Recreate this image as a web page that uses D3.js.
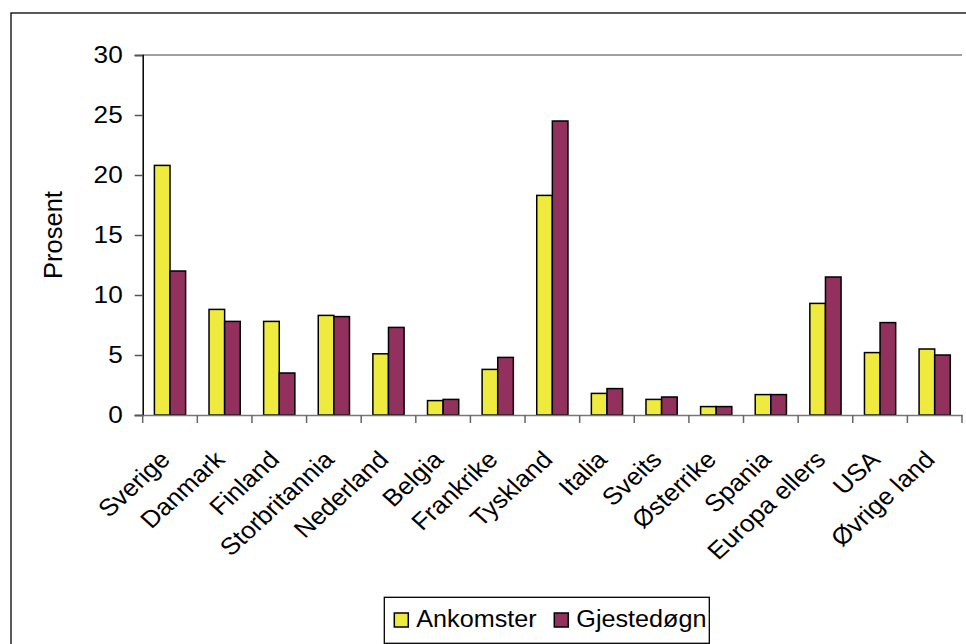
<!DOCTYPE html>
<html><head><meta charset="utf-8">
<script src="https://cdn.jsdelivr.net/npm/d3@7"></script>
<style>body{margin:0;background:#fff}svg{display:block;font-family:"Liberation Sans",Arial,sans-serif}</style>
</head><body><svg id="c" width="966" height="644"></svg>
<script>
const categories = ["Sverige","Danmark","Finland","Storbritannia","Nederland","Belgia","Frankrike","Tyskland","Italia","Sveits","Østerrike","Spania","Europa ellers","USA","Øvrige land"];
const ankomster = [20.8, 8.8, 7.8, 8.3, 5.1, 1.2, 3.8, 18.3, 1.8, 1.3, 0.7, 1.7, 9.3, 5.2, 5.5];
const gjestedogn = [12.0, 7.8, 3.5, 8.2, 7.3, 1.3, 4.8, 24.5, 2.2, 1.5, 0.7, 1.7, 11.5, 7.7, 5.0];
const seriesNames = ["Ankomster","Gjestedøgn"];
const seriesColors = ["#eeea3e","#93315e"];
const yTicks = [0,5,10,15,20,25,30];

const SX = 1.09; // horizontal text stretch seen in the reference
const svg = d3.select("#c");
const pLeft = 142.7, pRight = 962, pTop = 55, pBottom = 415;

// outer frame
svg.append("rect").attr("x",11).attr("y",13).attr("width",1000).attr("height",700)
  .attr("fill","#fff").attr("stroke","#000").attr("stroke-width",1.3);

const x = d3.scaleBand().domain(categories).range([pLeft,pRight]).paddingInner(0).paddingOuter(0);
const y = d3.scaleLinear().domain([0,30]).range([pBottom,pTop]);
const bw = x.bandwidth()/3.5;
const xs = d3.scaleBand().domain(seriesNames).range([bw*0.75, bw*2.75]).padding(0);

// top border of plot area
svg.append("line").attr("x1",pLeft).attr("x2",pRight).attr("y1",pTop).attr("y2",pTop)
  .attr("stroke","#808080").attr("stroke-width",1.5);

const data = categories.map((c,i)=>({c, vals:[ankomster[i], gjestedogn[i]]}));
const g = svg.append("g");
data.forEach(d=>{
  d.vals.forEach((v,j)=>{
    g.append("rect")
      .attr("x", x(d.c)+xs(seriesNames[j]))
      .attr("y", y(v))
      .attr("width", xs.bandwidth())
      .attr("height", y(0)-y(v))
      .attr("fill", seriesColors[j]).attr("stroke","#000").attr("stroke-width",1.5);
  });
});

// y axis
const yAxis = d3.axisLeft(y).tickValues(yTicks).tickSize(8).tickPadding(0).tickFormat(d3.format("d"));
const ya = svg.append("g").attr("transform",`translate(${pLeft},0)`).call(yAxis);
ya.select(".domain").attr("stroke","#000").attr("stroke-width",1.5);
ya.selectAll(".tick line").attr("stroke","#555").attr("stroke-width",1.5);
ya.selectAll(".tick text").attr("x",null)
  .attr("transform",`translate(-20,0) scale(${SX},1)`)
  .attr("font-size",24).attr("fill","#000").attr("font-family","Liberation Sans, Arial, sans-serif");

// x axis
const xAxis = d3.axisBottom(x).tickSize(0).tickFormat("");
const xa = svg.append("g").attr("transform",`translate(0,${pBottom})`).call(xAxis);
xa.select(".domain").attr("stroke","#777").attr("stroke-width",1.5);
const bounds = categories.map(c=>x(c)).concat([pRight]);
xa.selectAll(".bt").data(bounds).enter().append("line").attr("class","bt")
  .attr("x1",d=>d).attr("x2",d=>d).attr("y1",0).attr("y2",8).attr("stroke","#666").attr("stroke-width",1.5);

svg.append("g").selectAll("text").data(categories).enter().append("text")
  .attr("transform", d=>`translate(${x(d)+x.bandwidth()/2-11.5},449) scale(${SX},1) rotate(-45)`)
  .attr("text-anchor","end").attr("dy","0.71em")
  .attr("font-size",24).attr("fill","#000").text(d=>d);

// y label
svg.append("text").attr("transform",`translate(53,235) rotate(-90)`)
  .attr("text-anchor","middle").attr("dy","0.35em").attr("font-size",25.5).text("Prosent");

// legend
const lg = svg.append("g");
lg.append("rect").attr("x",384.3).attr("y",597.3).attr("width",325).attr("height",46)
  .attr("fill","#fff").attr("stroke","#000").attr("stroke-width",1.3);
const lx = [394.3, 554.3];
seriesNames.forEach((s,i)=>{
  lg.append("rect").attr("x",lx[i]).attr("y",613).attr("width",14).attr("height",14)
    .attr("fill",seriesColors[i]).attr("stroke","#000").attr("stroke-width",1.5);
  lg.append("text").attr("transform",`translate(${lx[i]+22},627) scale(1.05,1)`)
    .attr("font-size",24).text(s);
});
</script></body></html>
